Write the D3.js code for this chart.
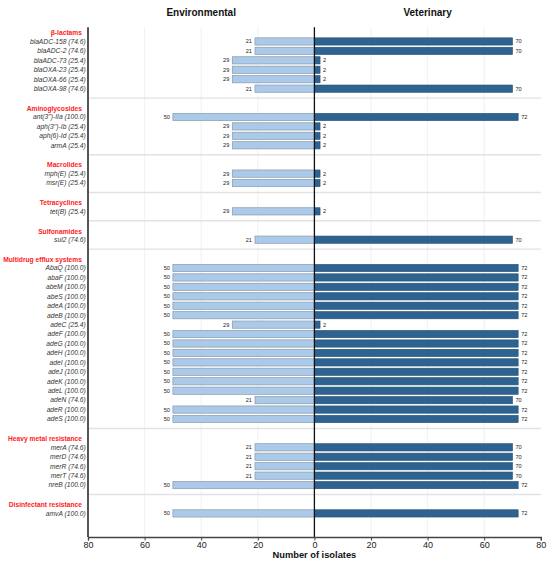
<!DOCTYPE html>
<html>
<head>
<meta charset="utf-8">
<script src="https://cdn.jsdelivr.net/npm/d3@7"></script>
<style>
  html, body { margin: 0; padding: 0; background: #fff; }
  svg { display: block; font-family: "Liberation Sans", Arial, Helvetica, sans-serif; }
</style>
</head>
<body>
<svg id="chart" width="550" height="568"></svg>
<script>
// ---------------- DATA ----------------
const groups = [
  "β-lactams", "Aminoglycosides", "Macrolides", "Tetracyclines",
  "Sulfonamides", "Multidrug efflux systems", "Heavy metal resistance", "Disinfectant resistance"
];
const genes = [
  "blaADC-158", "blaADC-2", "blaADC-73", "blaOXA-23", "blaOXA-66", "blaOXA-98",
  "ant(3'')-IIa", "aph(3'')-Ib", "aph(6)-Id", "armA",
  "mph(E)", "msr(E)",
  "tet(B)",
  "sul2",
  "AbaQ", "abaF", "abeM", "abeS", "adeA", "adeB", "adeC", "adeF", "adeG", "adeH",
  "adeI", "adeJ", "adeK", "adeL", "adeN", "adeR", "adeS",
  "merA", "merD", "merR", "merT", "nreB",
  "amvA"
];
const geneGroup = [
  0, 0, 0, 0, 0, 0,
  1, 1, 1, 1,
  2, 2,
  3,
  4,
  5, 5, 5, 5, 5, 5, 5, 5, 5, 5, 5, 5, 5, 5, 5, 5, 5,
  6, 6, 6, 6, 6,
  7
];
const prevalence = [
  "74.6", "74.6", "25.4", "25.4", "25.4", "74.6",
  "100.0", "25.4", "25.4", "25.4",
  "25.4", "25.4",
  "25.4",
  "74.6",
  "100.0", "100.0", "100.0", "100.0", "100.0", "100.0", "25.4", "100.0", "100.0", "100.0",
  "100.0", "100.0", "100.0", "100.0", "74.6", "100.0", "100.0",
  "74.6", "74.6", "74.6", "74.6", "100.0",
  "100.0"
];
const environmental = [
  21, 21, 29, 29, 29, 21,
  50, 29, 29, 29,
  29, 29,
  29,
  21,
  50, 50, 50, 50, 50, 50, 29, 50, 50, 50,
  50, 50, 50, 50, 21, 50, 50,
  21, 21, 21, 21, 50,
  50
];
const veterinary = [
  70, 70, 2, 2, 2, 70,
  72, 2, 2, 2,
  2, 2,
  2,
  70,
  72, 72, 72, 72, 72, 72, 2, 72, 72, 72,
  72, 72, 72, 72, 70, 72, 72,
  70, 70, 70, 70, 72,
  72
];
const xTicks = [-80, -60, -40, -20, 0, 20, 40, 60, 80];
const panelTitles = ["Environmental", "Veterinary"];
const xLabel = "Number of isolates";

// ---------------- LAYOUT (row units) ----------------
const genePos = [];
const headerPos = [];
const sepPos = [];
let cursor = 0;
groups.forEach((g, gi) => {
  headerPos.push(cursor + 1.1);
  let k = 0;
  genes.forEach((_, i) => {
    if (geneGroup[i] === gi) { genePos[i] = cursor + 2 + k; k++; }
  });
  cursor = cursor + k + 2;
  if (gi < groups.length - 1) sepPos.push(cursor);
});

const svg = d3.select("#chart");
const pLeft = 88, pRight = 540.8, pTop = 27.3, pBottom = 537;

const x = d3.scaleLinear().domain([-80, 80]).range([pLeft, pRight]);
const y = d3.scaleLinear().domain([0.5, cursor + 1.5]).range([pTop, pBottom]);
const barH = (y(1) - y(0)) * 0.77;

// vertical gridlines
svg.append("g").selectAll("line")
  .data(xTicks.filter(t => t !== 0 && Math.abs(t) !== 80))
  .join("line")
  .attr("x1", d => x(d)).attr("x2", d => x(d))
  .attr("y1", pTop).attr("y2", pBottom)
  .attr("stroke", "#ececec").attr("stroke-width", 0.8);

// group separators
svg.append("g").selectAll("line")
  .data(sepPos)
  .join("line")
  .attr("x1", pLeft).attr("x2", pRight)
  .attr("y1", d => y(d)).attr("y2", d => y(d))
  .attr("stroke", "#e2e2e2").attr("stroke-width", 1.4);

// bars
const idx = d3.range(genes.length);
svg.append("g").selectAll("rect")
  .data(idx)
  .join("rect")
  .attr("x", i => x(-environmental[i]))
  .attr("width", i => x(0) - x(-environmental[i]))
  .attr("y", i => y(genePos[i]) - barH / 2)
  .attr("height", barH)
  .attr("fill", "#abc9e8")
  .attr("stroke", "#8a9bab").attr("stroke-width", 0.7);

svg.append("g").selectAll("rect")
  .data(idx)
  .join("rect")
  .attr("x", x(0))
  .attr("width", i => x(veterinary[i]) - x(0))
  .attr("y", i => y(genePos[i]) - barH / 2)
  .attr("height", barH)
  .attr("fill", "#2e6391")
  .attr("stroke", "#23506f").attr("stroke-width", 0.6);

// value labels
svg.append("g").selectAll("text")
  .data(idx)
  .join("text")
  .attr("x", i => x(-environmental[i]) - 3)
  .attr("y", i => y(genePos[i]))
  .attr("dy", "0.35em")
  .attr("text-anchor", "end")
  .attr("font-size", 5.6)
  .attr("fill", "#222")
  .text(i => environmental[i]);

svg.append("g").selectAll("text")
  .data(idx)
  .join("text")
  .attr("x", i => x(veterinary[i]) + 3)
  .attr("y", i => y(genePos[i]))
  .attr("dy", "0.35em")
  .attr("text-anchor", "start")
  .attr("font-size", 5.6)
  .attr("fill", "#222")
  .text(i => veterinary[i]);

// gene labels
svg.append("g").selectAll("text")
  .data(idx)
  .join("text")
  .attr("x", 85.7)
  .attr("y", i => y(genePos[i]))
  .attr("dy", "0.35em")
  .attr("text-anchor", "end")
  .attr("font-size", 6.7)
  .attr("font-style", "italic")
  .attr("fill", "#333")
  .text(i => `${genes[i]} (${prevalence[i]})`);

// group headers
svg.append("g").selectAll("text")
  .data(groups)
  .join("text")
  .attr("x", 82)
  .attr("y", (d, i) => y(headerPos[i]))
  .attr("dy", "0.35em")
  .attr("text-anchor", "end")
  .attr("font-size", 6.7)
  .attr("font-weight", "bold")
  .attr("fill", "#ff1a1a")
  .text(d => d);

// zero line
svg.append("line")
  .attr("x1", x(0)).attr("x2", x(0))
  .attr("y1", pTop).attr("y2", pBottom)
  .attr("stroke", "#111").attr("stroke-width", 1.3);

// left spine
svg.append("line")
  .attr("x1", pLeft).attr("x2", pLeft)
  .attr("y1", pTop).attr("y2", pBottom)
  .attr("stroke", "#555").attr("stroke-width", 2);

// bottom axis
const xAxis = d3.axisBottom(x)
  .tickValues(xTicks)
  .tickFormat(d => Math.abs(d))
  .tickSizeOuter(0)
  .tickSize(3.5);
const ax = svg.append("g")
  .attr("transform", `translate(0,${pBottom})`)
  .call(xAxis);
ax.select(".domain").attr("stroke", "#444").attr("stroke-width", 1.4);
ax.selectAll(".tick line").attr("stroke", "#444").attr("stroke-width", 1);
ax.selectAll(".tick text")
  .attr("font-size", 9)
  .attr("font-family", "Liberation Sans, Arial, sans-serif")
  .attr("fill", "#222")
  .attr("dy", "0.71em")
  .attr("y", 5);

// axis label
svg.append("text")
  .attr("x", x(0))
  .attr("y", 555)
  .attr("dy", "0.35em")
  .attr("text-anchor", "middle")
  .attr("font-size", 9.3)
  .attr("font-weight", "bold")
  .attr("fill", "#111")
  .text(xLabel);

// panel titles
svg.append("g").selectAll("text")
  .data(panelTitles)
  .join("text")
  .attr("x", (d, i) => i === 0 ? (x(-80) + x(0)) / 2 : (x(0) + x(80)) / 2)
  .attr("y", 12)
  .attr("dy", "0.35em")
  .attr("text-anchor", "middle")
  .attr("font-size", 10)
  .attr("font-weight", "bold")
  .attr("fill", "#111")
  .text(d => d);
</script>
</body>
</html>
